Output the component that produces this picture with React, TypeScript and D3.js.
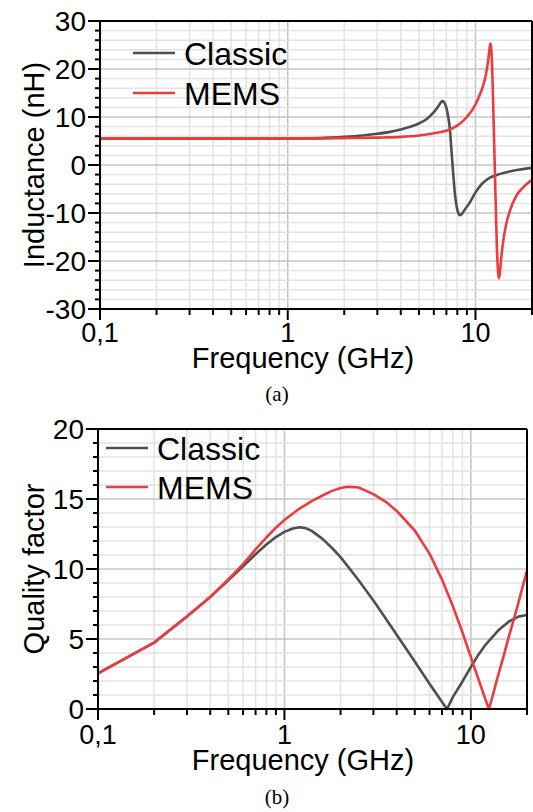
import React from "react";
import * as d3 from "d3";

// ---------- DATA ----------
const seriesNames = ["Classic", "MEMS"];
const seriesColors = ["#4f4f4f", "#ee3b40"];

// (a) Inductance (nH) vs frequency (GHz)
const classicIndFreq = [0.1, 0.2, 0.5, 1, 1.5, 2, 2.5, 3, 3.5, 4, 4.5, 5, 5.5, 6, 6.3, 6.5, 6.65, 6.8, 6.95, 7.1, 7.2, 7.3, 7.45, 7.6, 7.75, 7.95, 8.1, 8.25, 8.4, 8.6, 8.8, 9.3, 10, 10.9, 12, 13.4, 15, 17, 20];
const classicInd = [5.5, 5.5, 5.5, 5.52, 5.6, 5.85, 6.15, 6.5, 6.9, 7.4, 7.95, 8.65, 9.6, 11.0, 12.1, 12.9, 13.3, 13.1, 12.3, 10.8, 9.4, 7.6, 3.0, -1.5, -5.5, -8.8, -10.0, -10.45, -10.3, -9.8, -9.2, -7.9, -5.7, -3.8, -2.6, -1.9, -1.4, -1.0, -0.6];

const memsIndFreq = [0.1, 0.5, 1, 2, 3, 4, 5, 6, 7, 8, 9, 10, 10.5, 11, 11.4, 11.7, 11.9, 12.0, 12.1, 12.25, 12.4, 12.55, 12.7, 12.85, 13.0, 13.15, 13.3, 13.45, 13.7, 14.1, 14.6, 15.3, 16.4, 18, 20];
const memsInd = [5.5, 5.5, 5.5, 5.6, 5.7, 5.85, 6.15, 6.6, 7.15, 8.2, 10.0, 12.6, 14.5, 16.6, 19.1, 22.0, 24.4, 25.3, 24.8, 21.0, 14.0, 6.0, -2.0, -10.0, -17.0, -21.5, -23.6, -22.8, -19.5, -15.5, -12.2, -9.4, -6.6, -4.6, -3.1];

// (b) Quality factor vs frequency (GHz)
const classicQFreq = [0.1, 0.2, 0.3, 0.4, 0.5, 0.6, 0.7, 0.8, 0.9, 1.0, 1.1, 1.2, 1.3, 1.4, 1.6, 1.8, 2.0, 2.5, 3, 3.5, 4, 5, 6, 7, 7.45, 8, 9, 10, 11, 12, 14, 16, 18, 20];
const classicQ = [2.55, 4.74, 6.6, 8.0, 9.2, 10.2, 11.05, 11.75, 12.28, 12.65, 12.88, 12.98, 12.92, 12.72, 12.15, 11.5, 10.85, 9.2, 7.75, 6.45, 5.3, 3.4, 1.8, 0.5, 0, 0.85, 1.95, 3.0, 3.9, 4.6, 5.6, 6.25, 6.6, 6.72];

const memsQFreq = [0.1, 0.2, 0.3, 0.4, 0.5, 0.6, 0.7, 0.8, 0.9, 1.0, 1.2, 1.4, 1.6, 1.8, 2.0, 2.2, 2.5, 3, 3.5, 4, 5, 6, 7, 8, 9, 10, 11, 12, 12.5, 13, 14, 15, 16, 17, 18, 19, 20];
const memsQ = [2.55, 4.74, 6.6, 8.0, 9.25, 10.35, 11.4, 12.25, 12.95, 13.5, 14.3, 14.85, 15.25, 15.58, 15.78, 15.88, 15.82, 15.35, 14.8, 14.15, 12.75, 11.1, 9.25, 7.35, 5.5, 3.7, 2.1, 0.65, 0, 0.8, 2.4, 3.8, 5.2, 6.4, 7.6, 8.8, 9.86];

const xMajorTicks = [0.1, 1, 10];
const xMajorLabels = ["0,1", "1", "10"];
const xMinorTicks = [0.2, 0.3, 0.4, 0.5, 0.6, 0.7, 0.8, 0.9, 2, 3, 4, 5, 6, 7, 8, 9, 20];

const indYMajor = [-30, -20, -10, 0, 10, 20, 30];
const indYMinor = d3.range(-30, 31, 2);
const qYMajor = [0, 5, 10, 15, 20];
const qYMinor = d3.range(0, 21, 1);

const FONT = "'Liberation Sans', Arial, sans-serif";

type PanelProps = {
  left: number; right: number; top: number; bottom: number;
  yDomain: [number, number];
  yMajor: number[]; yMinor: number[];
  series: { f: number[]; v: number[]; color: string; name: string }[];
  smooth: boolean;
  yTitle: string; yTitleX: number;
  legendX: number; legendY: number; legendGap: number;
  xTitleY: number; caption: string; captionY: number; tickLabelY: number;
};

function Panel(p: PanelProps) {
  const x = d3.scaleLog().domain([0.1, 20]).range([p.left, p.right]);
  const y = d3.scaleLinear().domain(p.yDomain).range([p.bottom, p.top]);
  const line = d3.line<[number, number]>().x(d => x(d[0])).y(d => y(d[1]))
    .curve(p.smooth ? d3.curveMonotoneX : d3.curveLinear);
  const isMajorY = (v: number) => p.yMajor.includes(v);
  return (
    <g>
      {/* grid */}
      {xMinorTicks.filter(t => t < 20).map(t => (
        <line key={"gx" + t} x1={x(t)} x2={x(t)} y1={p.top} y2={p.bottom} stroke="#e3e3e3" strokeWidth={1.5} />
      ))}
      {xMajorTicks.filter(t => t > 0.1).map(t => (
        <line key={"gX" + t} x1={x(t)} x2={x(t)} y1={p.top} y2={p.bottom} stroke="#c4c4c4" strokeWidth={1.5} />
      ))}
      {p.yMinor.filter(v => !isMajorY(v)).map(v => (
        <line key={"gy" + v} x1={p.left} x2={p.right} y1={y(v)} y2={y(v)} stroke="#e3e3e3" strokeWidth={1.5} />
      ))}
      {p.yMajor.filter(v => v !== p.yDomain[0] && v !== p.yDomain[1]).map(v => (
        <line key={"gY" + v} x1={p.left} x2={p.right} y1={y(v)} y2={y(v)} stroke="#c4c4c4" strokeWidth={1.5} />
      ))}
      {/* series */}
      {p.series.map(s => (
        <path key={s.name} d={line(s.f.map((f, i) => [f, s.v[i]] as [number, number])) || ""} fill="none" stroke={s.color} strokeWidth={2.6} strokeLinejoin="round" />
      ))}
      {/* frame */}
      <line x1={p.left} x2={p.right} y1={p.top} y2={p.top} stroke="#000" strokeWidth={2} />
      <line x1={p.right} x2={p.right} y1={p.top} y2={p.bottom} stroke="#000" strokeWidth={2} />
      <line x1={p.left} x2={p.left} y1={p.top - 1} y2={p.bottom + 1} stroke="#000" strokeWidth={2} />
      <line x1={p.left - 1} x2={p.right + 1} y1={p.bottom} y2={p.bottom} stroke="#000" strokeWidth={2} />
      {/* y ticks */}
      {p.yMinor.filter(v => !isMajorY(v)).map(v => (
        <line key={"ty" + v} x1={p.left - 5} x2={p.left} y1={y(v)} y2={y(v)} stroke="#000" strokeWidth={2} />
      ))}
      {p.yMajor.map(v => (
        <g key={"tY" + v}>
          <line x1={p.left - 12} x2={p.left} y1={y(v)} y2={y(v)} stroke="#000" strokeWidth={2} />
          <text x={p.left - 14} y={y(v)} dy="0.36em" textAnchor="end" fontFamily={FONT} fontSize={28}>{v}</text>
        </g>
      ))}
      {/* x ticks */}
      {xMinorTicks.map(t => (
        <line key={"tx" + t} x1={x(t)} x2={x(t)} y1={p.bottom} y2={p.bottom + 6} stroke="#000" strokeWidth={2} />
      ))}
      {xMajorTicks.map((t, i) => (
        <g key={"tX" + t}>
          <line x1={x(t)} x2={x(t)} y1={p.bottom} y2={p.bottom + 11} stroke="#000" strokeWidth={2} />
          <text x={x(t)} y={p.tickLabelY} textAnchor="middle" fontFamily={FONT} fontSize={27}>{xMajorLabels[i]}</text>
        </g>
      ))}
      {/* titles */}
      <text x={303} y={p.xTitleY} textAnchor="middle" fontFamily={FONT} fontSize={29}>Frequency (GHz)</text>
      <text transform={`translate(${p.yTitleX},${(p.top + p.bottom) / 2}) rotate(-90)`} textAnchor="middle" fontFamily={FONT} fontSize={29}>{p.yTitle}</text>
      <text x={277} y={p.captionY} textAnchor="middle" fontFamily="'Liberation Serif', 'Times New Roman', serif" fontSize={21}>{p.caption}</text>
      {/* legend */}
      {p.series.map((s, i) => (
        <g key={"lg" + s.name}>
          <line x1={p.legendX} x2={p.legendX + 42} y1={p.legendY + i * p.legendGap} y2={p.legendY + i * p.legendGap} stroke={s.color} strokeWidth={2.6} />
          <text x={p.legendX + 51} y={p.legendY + i * p.legendGap} dy="0.36em" fontFamily={FONT} fontSize={32}>{s.name}</text>
        </g>
      ))}
    </g>
  );
}

export default function App() {
  return (
    <div style={{ position: "absolute", left: 0, top: 0 }}>
      <svg width={533} height={812} style={{ display: "block", background: "#fff" }}>
        <Panel left={100} right={532} top={21} bottom={309} yDomain={[-30, 30]}
          yMajor={indYMajor} yMinor={indYMinor} smooth={true}
          series={[
            { f: classicIndFreq, v: classicInd, color: seriesColors[0], name: seriesNames[0] },
            { f: memsIndFreq, v: memsInd, color: seriesColors[1], name: seriesNames[1] },
          ]}
          yTitle="Inductance (nH)" yTitleX={44}
          legendX={133} legendY={53} legendGap={40}
          tickLabelY={342} xTitleY={368} caption="(a)" captionY={401} />
        <Panel left={98} right={527} top={429} bottom={709} yDomain={[0, 20]}
          yMajor={qYMajor} yMinor={qYMinor} smooth={false}
          series={[
            { f: classicQFreq, v: classicQ, color: seriesColors[0], name: seriesNames[0] },
            { f: memsQFreq, v: memsQ, color: seriesColors[1], name: seriesNames[1] },
          ]}
          yTitle="Quality factor" yTitleX={44}
          legendX={106} legendY={448} legendGap={39}
          tickLabelY={744} xTitleY={770} caption="(b)" captionY={804} />
      </svg>
    </div>
  );
}
